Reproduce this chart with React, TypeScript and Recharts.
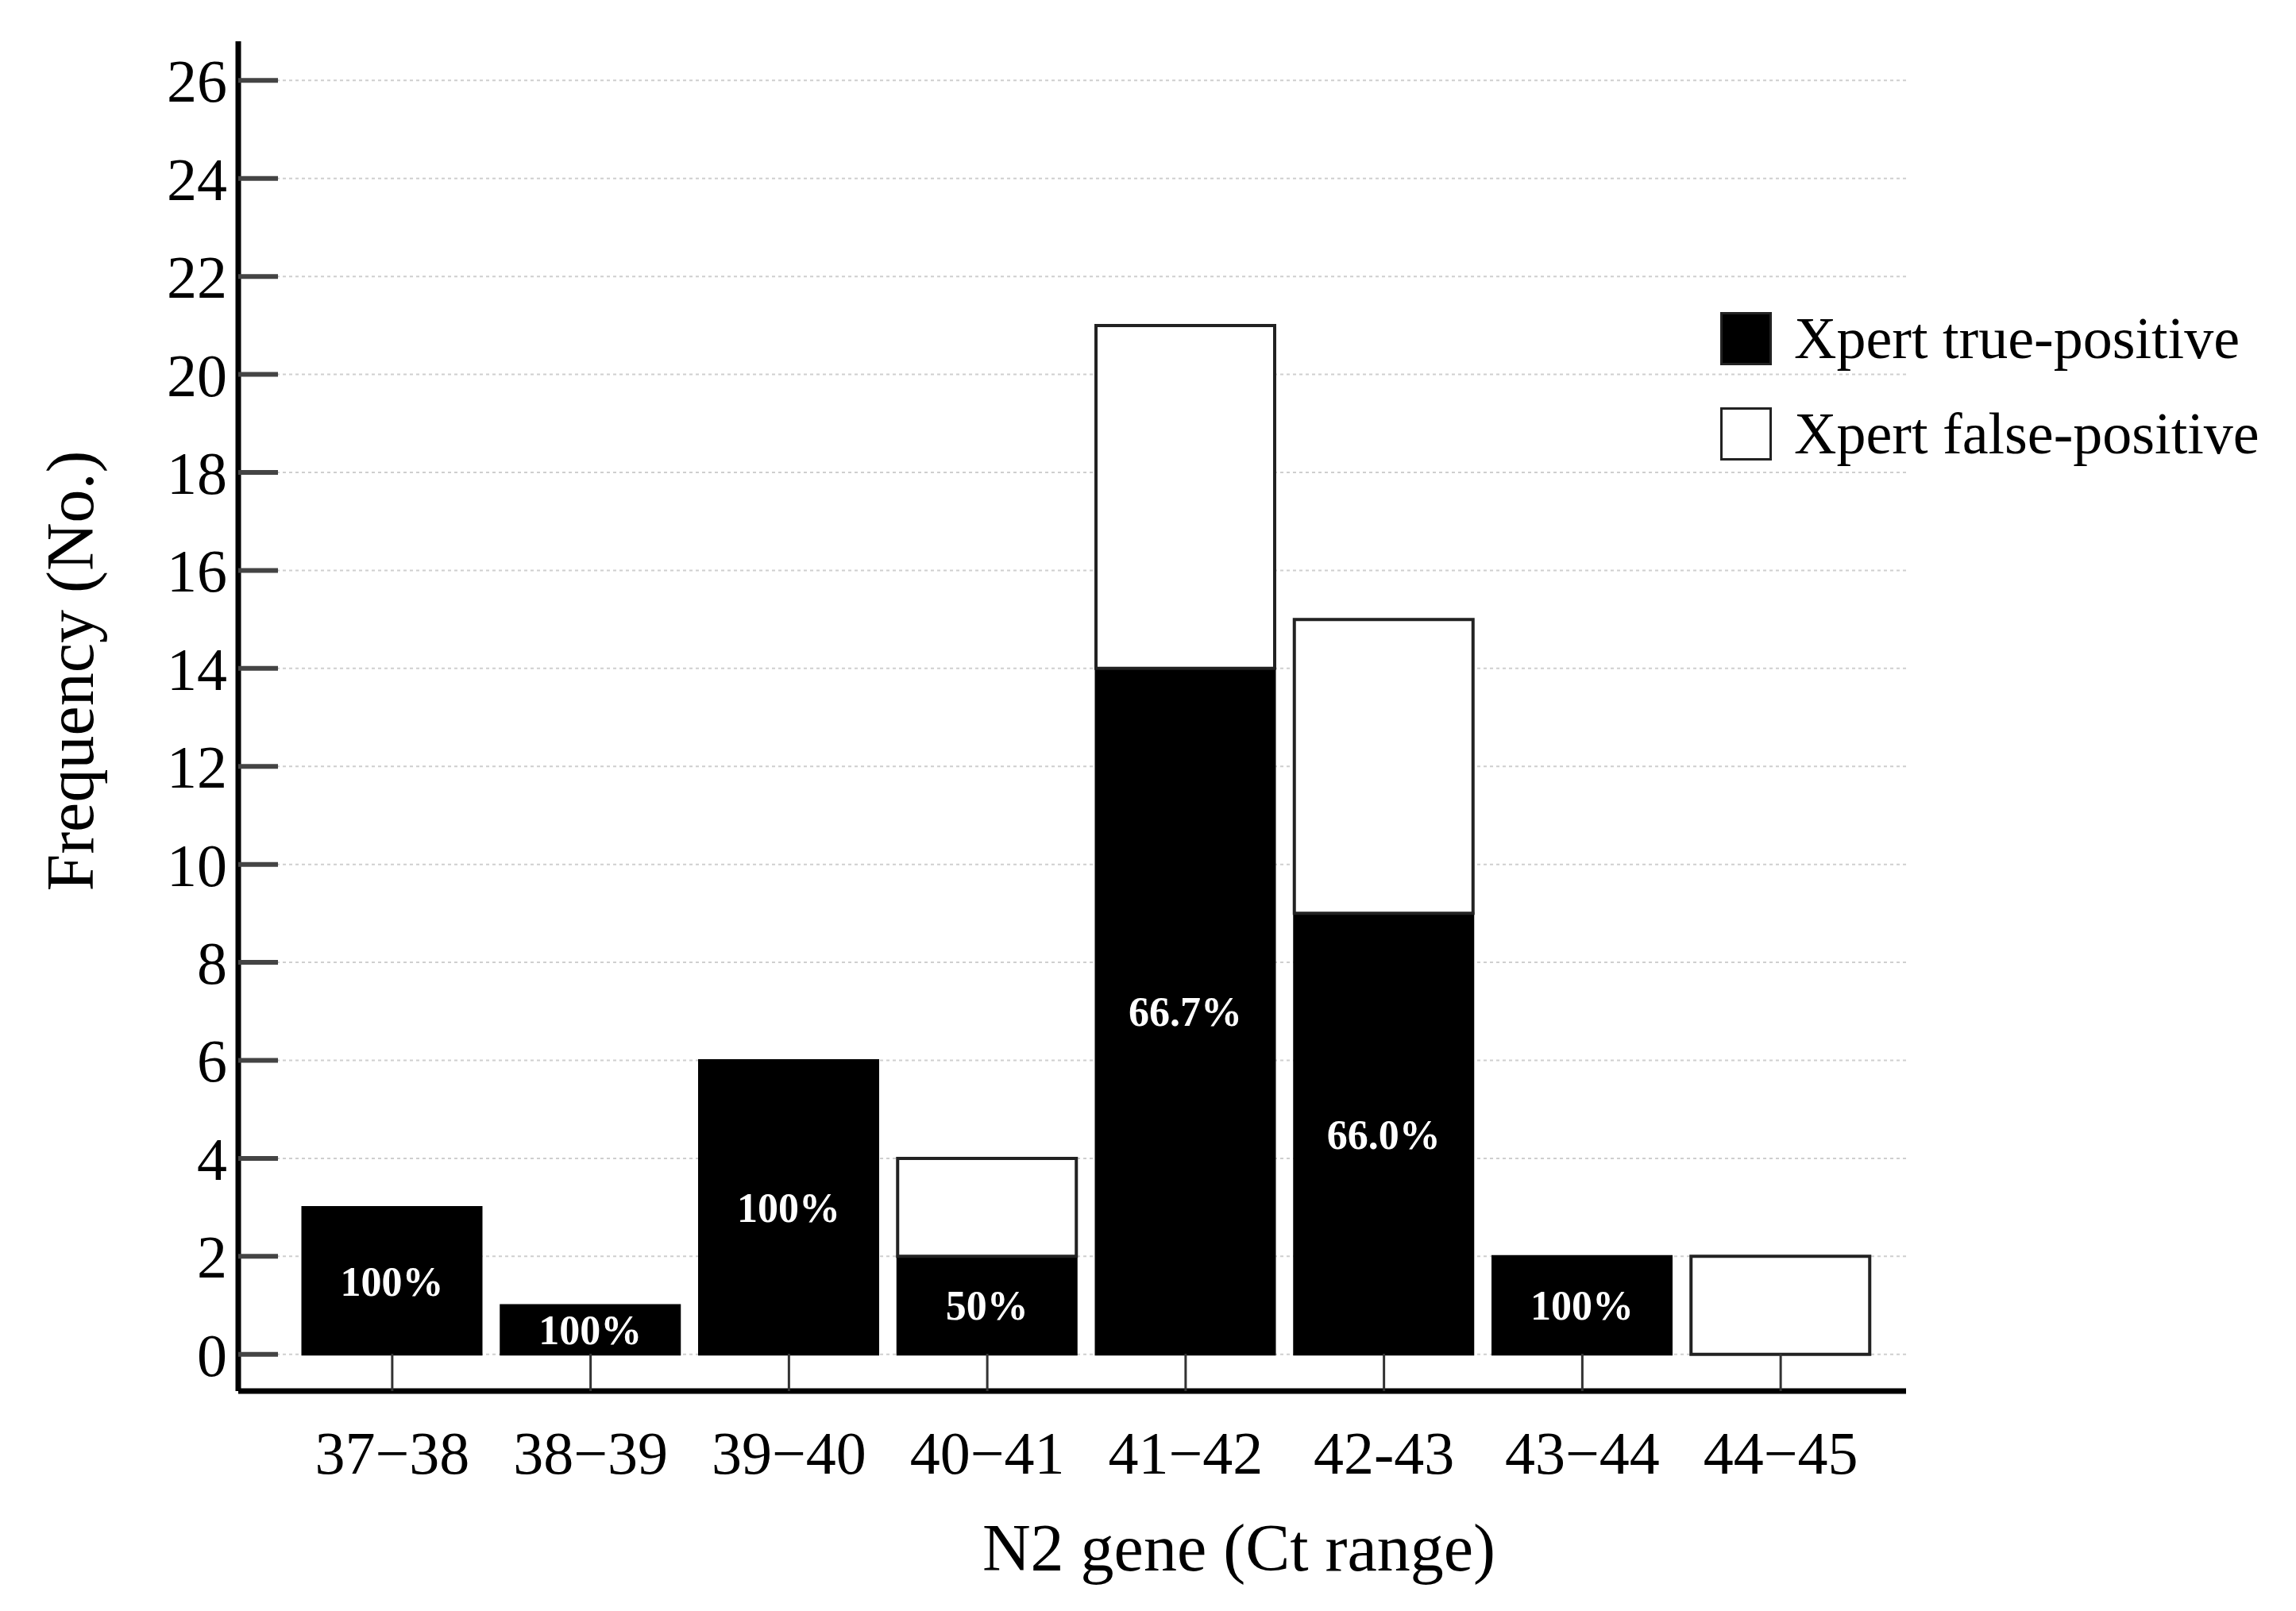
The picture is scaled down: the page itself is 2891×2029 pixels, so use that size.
import React from 'react';
import { BarChart, Bar, XAxis, YAxis, CartesianGrid, Legend, LabelList } from 'recharts';

const FONT = '"Liberation Serif", "Times New Roman", serif';

// Ct range bins of the N2 gene
const ctRanges = ['37−38', '38−39', '39−40', '40−41', '41−42', '42-43', '43−44', '44−45'];
// counts per bin
const truePositive = [3, 1, 6, 2, 14, 9, 2, 0];
const falsePositive = [0, 0, 0, 2, 7, 6, 0, 2];
// share of true-positives printed inside the black bars
const truePercent = ['100%', '100%', '100%', '50%', '66.7%', '66.0%', '100%', ''];
const yTicks = [0, 2, 4, 6, 8, 10, 12, 14, 16, 18, 20, 22, 24, 26];
const legendOrder = ['tp', 'fp'];

const data = ctRanges.map((range, i) => ({
  range,
  tp: truePositive[i],
  fp: falsePositive[i],
  pct: truePercent[i],
}));

const renderLegend = (props: any) => {
  const items = [...(props.payload || [])].sort(
    (a: any, b: any) => legendOrder.indexOf(a.dataKey) - legendOrder.indexOf(b.dataKey)
  );
  return (
    <div style={{ fontFamily: FONT, fontSize: 74, color: '#000', whiteSpace: 'nowrap' }}>
      {items.map((entry: any) => (
        <div key={entry.value} style={{ display: 'flex', alignItems: 'center', height: 120 }}>
          <span
            style={{
              display: 'inline-block',
              width: 59,
              height: 61,
              background: entry.color,
              border: '3px solid #222',
              marginRight: 28,
            }}
          />
          <span>{entry.value}</span>
        </div>
      ))}
    </div>
  );
};

const renderYLabel = (props: any) => {
  const vb = props.viewBox;
  const cx = vb.x + 88;
  const cy = vb.y + 793;
  return (
    <text
      x={cx}
      y={cy}
      transform={`rotate(-90, ${cx}, ${cy})`}
      textAnchor="middle"
      dominantBaseline="central"
      fontFamily={FONT}
      fontSize={84}
      fill="#000"
    >
      Frequency (No.)
    </text>
  );
};

const renderXLabel = (props: any) => {
  const vb = props.viewBox;
  return (
    <text
      x={vb.x + 1260}
      y={vb.y + 197}
      textAnchor="middle"
      dominantBaseline="central"
      fontFamily={FONT}
      fontSize={84}
      fill="#000"
    >
      N2 gene (Ct range)
    </text>
  );
};

export default function App() {
  return (
    <div style={{ position: 'absolute', left: 0, top: 0, width: 2891, height: 2029, background: '#fff' }}>
      <BarChart
        width={2891}
        height={2029}
        data={data}
        margin={{ top: 52, right: 491, bottom: 0, left: 0 }}
      >
        {/* grid only at the labelled ticks, not at the plot edges */}
        <CartesianGrid
          vertical={false}
          horizontalValues={yTicks}
          syncWithTicks
          stroke="#cfcfcf"
          strokeDasharray="4 4"
          strokeWidth={2}
        />
        <XAxis
          dataKey="range"
          height={277}
          padding={{ left: 69, right: 33 }}
          axisLine={{ stroke: '#000', strokeWidth: 7 }}
          tickLine={{ stroke: '#333', strokeWidth: 3 }}
          tickSize={-47}
          tickMargin={97}
          interval={0}
          tick={{ fill: '#000', fontSize: 76, fontFamily: FONT }}
          label={renderXLabel}
        />
        <YAxis
          width={300}
          type="number"
          domain={[-0.75, 26.8]}
          ticks={yTicks}
          allowDataOverflow
          axisLine={{ stroke: '#000', strokeWidth: 7 }}
          tickLine={{ stroke: '#444', strokeWidth: 6 }}
          tickSize={-50}
          tickMargin={64}
          tick={{ fill: '#000', fontSize: 76, fontFamily: FONT }}
          label={renderYLabel}
        />
        <Legend
          layout="vertical"
          align="center"
          verticalAlign="middle"
          content={renderLegend}
          wrapperStyle={{ left: 2166, top: 366, width: 725 }}
        />
        <Bar
          dataKey="tp"
          name="Xpert true-positive"
          stackId="n2"
          fill="#000"
          stroke="#000"
          strokeWidth={3}
          barSize={225}
          isAnimationActive={false}
        >
          <LabelList
            dataKey="pct"
            position="center"
            fill="#fff"
            fontSize={52}
            fontWeight="bold"
            fontFamily={FONT}
          />
        </Bar>
        <Bar
          dataKey="fp"
          name="Xpert false-positive"
          stackId="n2"
          fill="#fff"
          stroke="#222"
          strokeWidth={4}
          barSize={225}
          isAnimationActive={false}
        />
      </BarChart>
    </div>
  );
}
